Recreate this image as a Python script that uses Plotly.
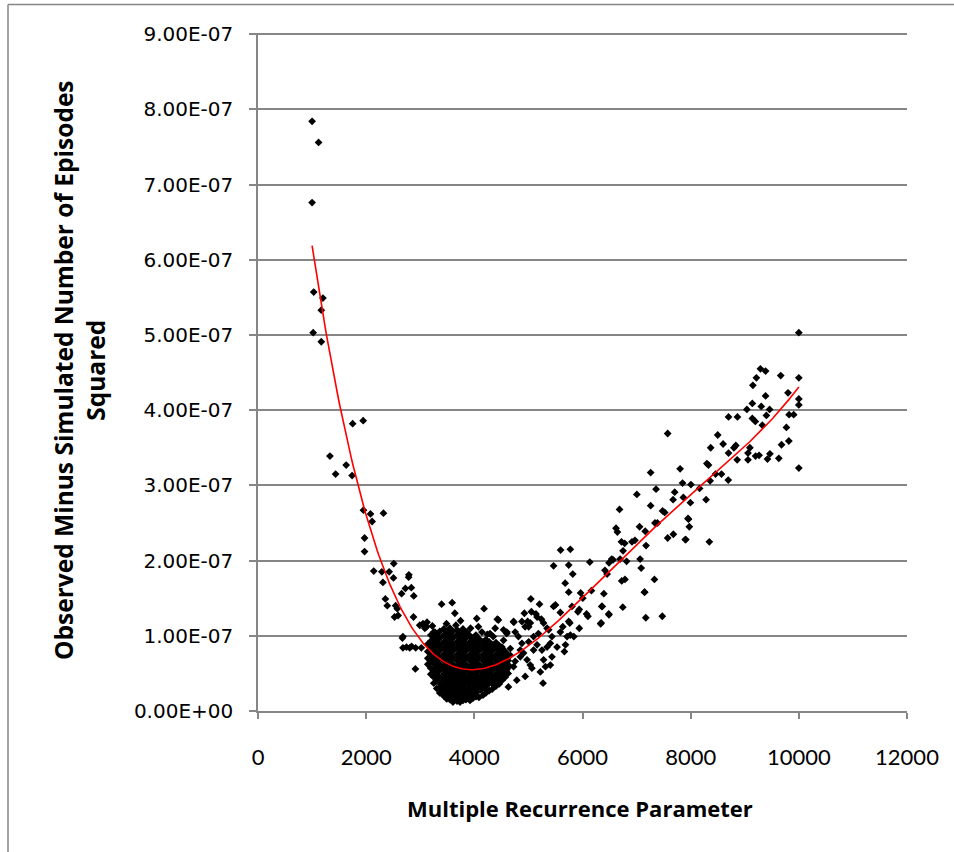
import numpy as np
import plotly.graph_objects as go

# y values below are given in units of 1e-7
Y_UNIT = 1e-7

# descending arm (small parameter values)
x_left = [1000, 1120, 1000, 1030, 1200, 1170, 1020, 1170,
          1750, 1945, 1330, 1630, 1435, 1740,
          1950, 2080, 2110, 2320, 1970, 1970,
          2510, 2140, 2290, 2425, 2505, 2790, 2785,
          2310, 2725, 2655, 2835, 2880, 2355, 2390, 2545, 2575, 2525, 2590, 2875,
          2680, 2670, 2680, 2805, 2915, 3020, 2910, 2745, 2840, 2990, 3085, 3050, 3125, 3225]
y_left = [7.84, 7.56, 6.76, 5.57, 5.49, 5.33, 5.03, 4.91,
          3.82, 3.86, 3.39, 3.27, 3.15, 3.13,
          2.67, 2.62, 2.52, 2.63, 2.30, 2.12,
          1.96, 1.86, 1.85, 1.85, 1.77, 1.81, 1.78,
          1.71, 1.63, 1.56, 1.64, 1.53, 1.49, 1.40, 1.40, 1.36, 1.25, 1.27, 1.25,
          0.99, 0.97, 0.84, 0.84, 0.84, 0.84, 0.56, 0.85, 0.86, 1.14, 1.10, 1.16, 1.18, 1.13]

# dense core of runs around the minimum: (parameter, [values])
core_columns = [
    (3140, [0.62, 0.70, 0.79, 0.89]),
    (3195, [0.49, 0.57, 0.66, 0.76, 0.84, 0.93, 1.01]),
    (3250, [0.37, 0.45, 0.54, 0.63, 0.71, 0.79, 0.88, 0.97, 1.05]),
    (3305, [0.30, 0.40, 0.49, 0.58, 0.66, 0.75, 0.83, 0.92, 1.01]),
    (3360, [0.24, 0.31, 0.37, 0.45, 0.54, 0.62, 0.71, 0.80, 0.88, 0.97, 1.06]),
    (3435, [0.20, 0.28, 0.33, 0.41, 0.49, 0.58, 0.67, 0.75, 0.84, 0.92, 1.01, 1.09]),
    (3490, [0.16, 0.23, 0.28, 0.37, 0.45, 0.54, 0.62, 0.71, 0.80, 0.88, 0.97, 1.06]),
    (3550, [0.15, 0.24, 0.32, 0.41, 0.49, 0.58, 0.67, 0.75, 0.84, 0.92, 1.01, 1.10]),
    (3605, [0.12, 0.20, 0.28, 0.37, 0.45, 0.54, 0.62, 0.71, 0.80, 0.88, 0.97, 1.06]),
    (3680, [0.13, 0.24, 0.32, 0.41, 0.49, 0.58, 0.67, 0.75, 0.84, 0.92, 1.01, 1.08]),
    (3735, [0.12, 0.20, 0.28, 0.37, 0.45, 0.54, 0.62, 0.71, 0.80, 0.88, 0.97, 1.05]),
    (3790, [0.14, 0.24, 0.32, 0.41, 0.49, 0.58, 0.67, 0.75, 0.84, 0.92, 1.01]),
    (3845, [0.15, 0.20, 0.28, 0.37, 0.45, 0.54, 0.62, 0.71, 0.80, 0.88, 0.97, 1.04]),
    (3920, [0.14, 0.24, 0.32, 0.41, 0.49, 0.58, 0.67, 0.75, 0.84, 0.92, 1.00]),
    (3975, [0.17, 0.28, 0.37, 0.45, 0.54, 0.62, 0.71, 0.80, 0.88, 0.97]),
    (4030, [0.19, 0.32, 0.41, 0.49, 0.58, 0.67, 0.75, 0.84, 0.92, 1.01]),
    (4085, [0.18, 0.28, 0.37, 0.45, 0.54, 0.62, 0.71, 0.80, 0.88, 0.96]),
    (4160, [0.21, 0.32, 0.41, 0.49, 0.58, 0.67, 0.75, 0.84, 0.92]),
    (4215, [0.24, 0.37, 0.45, 0.54, 0.62, 0.71, 0.80, 0.88, 0.95]),
    (4275, [0.27, 0.41, 0.49, 0.58, 0.67, 0.75, 0.84, 0.92]),
    (4330, [0.29, 0.37, 0.45, 0.54, 0.62, 0.71, 0.80, 0.88]),
    (4400, [0.33, 0.41, 0.49, 0.58, 0.67, 0.75, 0.84, 0.91]),
    (4460, [0.36, 0.45, 0.54, 0.62, 0.71, 0.80, 0.87]),
    (4515, [0.41, 0.49, 0.58, 0.67, 0.75, 0.83]),
    (4570, [0.45, 0.54, 0.62, 0.71, 0.79]),
    (4625, [0.50, 0.58, 0.67, 0.74]),
]

# overlapping runs in the heart of the core
inner_columns = [
    (3470, [0.26, 0.35, 0.44, 0.52]),
    (3520, [0.20, 0.30, 0.39, 0.47, 0.56]),
    (3580, [0.17, 0.26, 0.34, 0.43, 0.51, 0.60]),
    (3640, [0.16, 0.22, 0.30, 0.39, 0.47, 0.56]),
    (3700, [0.18, 0.27, 0.35, 0.43, 0.52, 0.60]),
    (3760, [0.17, 0.24, 0.31, 0.40, 0.48, 0.57]),
    (3820, [0.19, 0.27, 0.36, 0.44, 0.53, 0.61]),
    (3880, [0.20, 0.29, 0.38, 0.46, 0.55]),
    (3940, [0.21, 0.30, 0.39, 0.47, 0.56]),
    (4000, [0.25, 0.34, 0.43, 0.51, 0.60]),
    (4060, [0.26, 0.35, 0.44, 0.53]),
    (4120, [0.28, 0.37, 0.46, 0.55]),
    (4190, [0.30, 0.40, 0.49]),
    (4250, [0.35, 0.44, 0.53]),
]

# scattered runs around the edge of the core
x_edge = [3395, 3590, 3640, 3745, 4180, 4045, 4425, 4730, 3485, 3790, 4445, 4540, 4385, 4290, 4140,
          3115, 3270, 3860, 4075, 4350, 4600, 3660, 3930, 4240]
y_edge = [1.42, 1.44, 1.30, 1.20, 1.36, 1.23, 1.22, 1.18, 1.16, 1.09, 1.21, 1.08, 1.10, 1.03, 1.05,
          1.12, 1.05, 1.05, 1.12, 0.99, 1.05, 1.14, 1.10, 1.02]

# just right of the minimum
x_right_low = [4725, 4755, 4600, 4815, 4540, 4880, 5005, 5095, 5160, 5250, 5345, 5405, 5435, 5280, 5315,
               5405, 4910, 4975, 5035, 5065, 4940, 4785, 4630, 4540, 4600, 4475, 4755, 4850, 4665, 4510,
               5185, 4940, 5035,
               4925, 5055, 5140, 5240, 5280, 5345, 4880, 5005, 5220, 5270, 5530, 5375, 5435, 4985, 5160,
               4850, 5095, 4725, 4665, 4630, 5045, 5205]
y_right_low = [1.19, 1.05, 1.03, 0.99, 0.94, 0.90, 0.92, 0.99, 0.88, 0.81, 0.85, 0.90, 0.72, 0.68, 0.59,
               0.61, 0.77, 0.68, 0.61, 0.57, 0.46, 0.41, 0.32, 0.48, 0.55, 0.59, 0.66, 0.81, 0.83, 0.85,
               1.03, 1.12, 1.17,
               1.30, 1.32, 1.29, 1.22, 1.17, 1.10, 1.19, 1.12, 0.52, 0.37, 0.85, 1.08, 0.99, 1.19, 1.25,
               0.72, 0.81, 0.59, 0.74, 0.61, 1.49, 1.42]

# rising arm, middle section
x_rise = [5595, 5775, 5465, 5745, 5820, 6135, 5680, 5965, 5745, 6165, 6005, 6395, 6355, 6485, 6335,
          5940, 5915, 6075, 6100, 5805, 5745, 5765, 5590, 5635, 5590, 5715, 5775, 5940, 5840, 5685,
          5665, 5465, 5500]
y_rise = [2.14, 2.15, 1.93, 1.94, 1.82, 1.98, 1.70, 1.57, 1.58, 1.60, 1.50, 1.56, 1.39, 1.29, 1.16,
          1.35, 1.32, 1.29, 1.26, 1.39, 1.19, 1.17, 1.31, 1.12, 1.05, 0.99, 1.01, 1.10, 0.99, 0.88,
          0.79, 1.39, 1.41]

# rising arm, upper section
x_upper = [6490, 6540, 6415, 6695, 6815, 7065, 7085, 6455, 6725, 6785, 7330, 7150, 6745, 7170, 7475,
           6685, 7005, 7360, 7850, 8005, 7705, 7865, 7675, 7995, 7260, 7480, 7520, 7340, 7385, 7160,
           7055, 7960, 7975, 7680, 7575, 7900, 6620, 6645, 6720, 6780, 6915, 6970, 7175, 6750, 6565,
           7145, 6365, 6490, 6345, 7260, 7575]
y_upper = [1.97, 2.02, 1.87, 2.02, 1.99, 2.02, 1.90, 1.82, 1.73, 1.75, 1.75, 1.58, 1.38, 1.24, 1.26,
           2.68, 2.88, 2.95, 3.03, 3.01, 2.91, 2.84, 2.81, 2.77, 2.73, 2.66, 2.64, 2.50, 2.50, 2.39,
           2.45, 2.55, 2.45, 2.35, 2.30, 2.28, 2.43, 2.38, 2.25, 2.23, 2.25, 2.27, 2.20, 2.13, 2.01,
           1.58, 1.39, 1.28, 1.17, 3.17, 3.69]

# large parameter values
x_far = [10000, 9290, 9385, 9215, 9150, 9665, 10000, 9800, 9385, 10000, 10000, 9140, 9040, 9305, 9460,
         9400, 9140, 9195, 9325, 9820, 9905, 9770, 8700, 8865, 9680, 9815, 9095, 9060, 9060, 9200,
         9265, 9420, 9465, 9630, 10000, 8835, 8800, 8860, 8700, 8600, 8500, 8370, 8300, 8330, 8460,
         8570, 8695, 7805, 8360, 8165, 8285, 7950, 8345, 7910]
y_far = [5.03, 4.55, 4.52, 4.43, 4.33, 4.46, 4.43, 4.23, 4.19, 4.15, 4.07, 4.09, 4.01, 4.05, 4.01,
         3.93, 3.89, 3.85, 3.80, 3.94, 3.94, 3.77, 3.91, 3.91, 3.54, 3.59, 3.50, 3.43, 3.34, 3.39,
         3.40, 3.35, 3.42, 3.36, 3.23, 3.53, 3.50, 3.34, 3.43, 3.55, 3.67, 3.50, 3.29, 3.27, 3.15,
         3.15, 3.07, 3.22, 3.06, 2.96, 2.81, 2.56, 2.25, 2.28]

# axis ticks
x_ticks = [0, 2000, 4000, 6000, 8000, 10000, 12000]
x_tick_labels = ["0", "2000", "4000", "6000", "8000", "10000", "12000"]
y_ticks = [0, 1, 2, 3, 4, 5, 6, 7, 8, 9]
y_tick_labels = ["0.00E+00", "1.00E-07", "2.00E-07", "3.00E-07", "4.00E-07",
                 "5.00E-07", "6.00E-07", "7.00E-07", "8.00E-07", "9.00E-07"]

# ---- assemble the series ----
def flatten(columns):
    xs = [cx for cx, ys in columns for _ in ys]
    vs = [v for _, ys in columns for v in ys]
    return xs, vs


x_core, y_core = flatten(core_columns)
x_inner, y_inner = flatten(inner_columns)

x_all = np.array(x_left + x_core + x_inner + x_edge + x_right_low + x_rise + x_upper + x_far, dtype=float)
y_all = np.array(y_left + y_core + y_inner + y_edge + y_right_low + y_rise + y_upper + y_far,
                 dtype=float) * Y_UNIT

# polynomial trend line fitted to all runs
coef = np.polyfit(x_all / 1000.0, y_all / Y_UNIT, 4)
trend_x = np.linspace(x_all.min(), x_all.max(), 300)
trend_y = np.polyval(coef, trend_x / 1000.0) * Y_UNIT

GRAY = "#868686"
W, H = 954, 852
L, R, T, B = 258, 47, 33, 141
pw, ph = W - L - R, H - T - B
Y_MAX = 9.015


def px_x(px):
    return (px - L) / pw


def px_y(py):
    return (H - B - py) / ph


fig = go.Figure()
fig.add_trace(go.Scatter(
    x=x_all, y=y_all, mode="markers",
    marker=dict(symbol="diamond", size=6, color="black", line=dict(width=0)),
    showlegend=False, hoverinfo="skip"))
fig.add_trace(go.Scatter(
    x=trend_x, y=trend_y, mode="lines",
    line=dict(color="#ff0000", width=1.6),
    showlegend=False, hoverinfo="skip"))

fig.update_layout(
    width=W, height=H,
    margin=dict(l=L, r=R, t=T, b=B, pad=0),
    paper_bgcolor="white", plot_bgcolor="white",
    xaxis=dict(
        range=[0, 12000], tickmode="array", tickvals=x_ticks, ticktext=x_tick_labels,
        showgrid=False, zeroline=False, showline=True, linecolor=GRAY, linewidth=1.5,
        ticks="outside", ticklen=6, tickwidth=1.5, tickcolor=GRAY, ticklabelstandoff=20,
        tickfont=dict(family="Lato, Open Sans, sans-serif", size=22, color="black"),
    ),
    yaxis=dict(
        range=[0, Y_MAX * Y_UNIT], tickmode="array",
        tickvals=[v * Y_UNIT for v in y_ticks], ticktext=y_tick_labels,
        showgrid=True, gridcolor=GRAY, gridwidth=1.5,
        zeroline=False, showline=True, linecolor=GRAY, linewidth=1.5,
        ticks="outside", ticklen=7, tickwidth=1.5, tickcolor=GRAY, ticklabelstandoff=12,
        tickfont=dict(family="DejaVu Sans, Verdana, sans-serif", size=20, color="black"),
    ),
    annotations=[
        dict(text="<b>Observed Minus Simulated Number of Episodes<br>Squared</b>",
             xref="paper", yref="paper", x=px_x(79), y=px_y(370),
             xanchor="center", yanchor="middle", textangle=-90, showarrow=False,
             font=dict(family="Open Sans, sans-serif", size=24.5, color="black")),
        dict(text="<b>Multiple Recurrence Parameter</b>",
             xref="paper", yref="paper", x=px_x(580), y=px_y(808),
             xanchor="center", yanchor="middle", showarrow=False,
             font=dict(family="Open Sans, sans-serif", size=22, color="black")),
    ],
    shapes=[
        dict(type="line", xref="paper", yref="paper",
             x0=px_x(8), x1=px_x(W + 2), y0=px_y(4.5), y1=px_y(4.5),
             line=dict(color=GRAY, width=1.5)),
        dict(type="line", xref="paper", yref="paper",
             x0=px_x(8), x1=px_x(8), y0=px_y(4.5), y1=px_y(H + 2),
             line=dict(color=GRAY, width=1.5)),
    ],
)

fig.write_html("out.html")
